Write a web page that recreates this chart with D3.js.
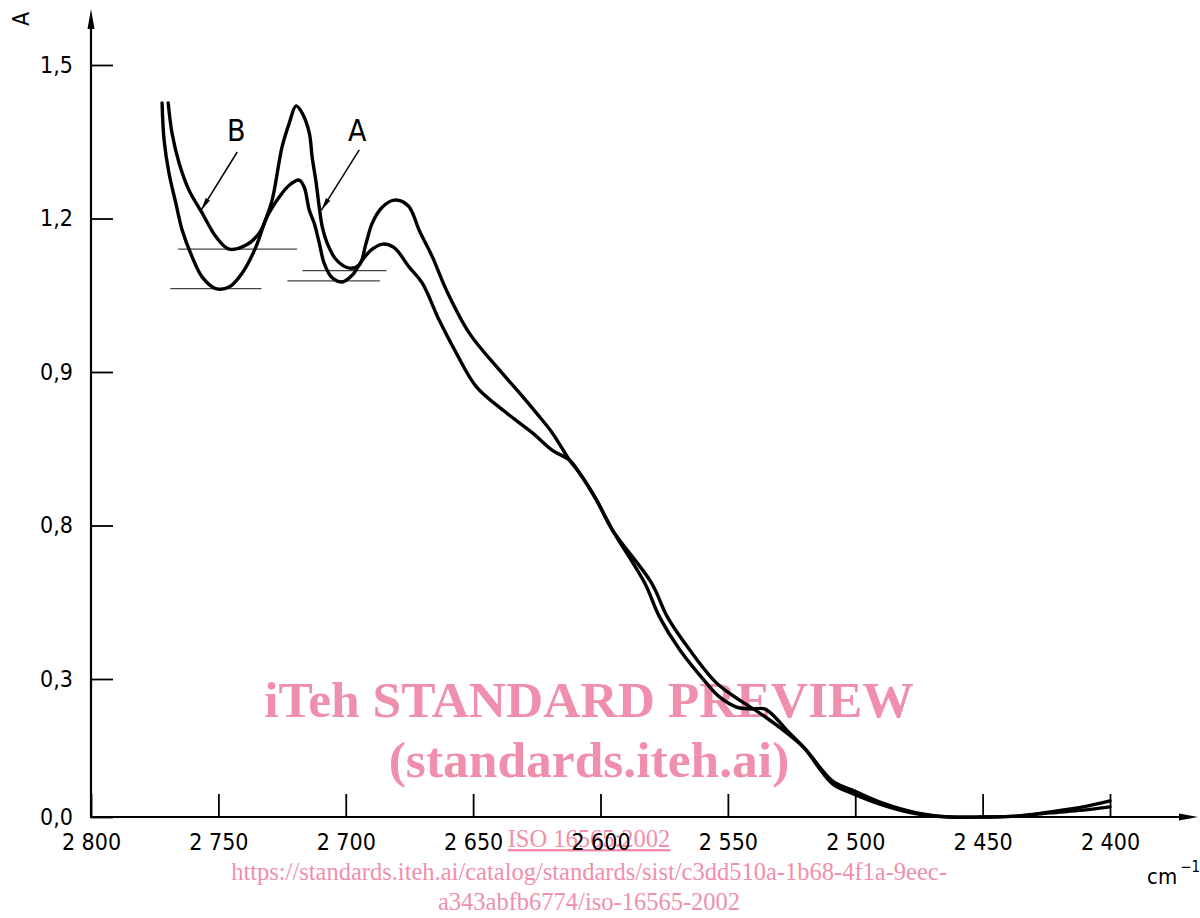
<!DOCTYPE html>
<html>
<head>
<meta charset="utf-8">
<script src="https://cdn.jsdelivr.net/npm/d3@7"></script>
<style>
  html, body { margin: 0; padding: 0; background: #fff; }
  .content { width: 1200px; height: 918px; }
</style>
</head>
<body>
<div class="content"></div>
<script>
// wavenumber (cm-1) and absorbance
var curveA = [
  [2772.1, 1.426], [2771.3, 1.353], [2769.4, 1.289], [2766.7, 1.230], [2764.2, 1.177],
  [2760.3, 1.125], [2756.4, 1.086], [2751.0, 1.063], [2745.8, 1.066], [2740.7, 1.093],
  [2735.3, 1.144], [2732.0, 1.191], [2728.9, 1.236], [2725.0, 1.340], [2722.2, 1.386],
  [2719.5, 1.420], [2717.1, 1.406], [2714.3, 1.367], [2713.2, 1.320], [2711.6, 1.269],
  [2710.4, 1.222], [2709.2, 1.183], [2707.3, 1.152], [2703.7, 1.119], [2698.6, 1.103],
  [2694.7, 1.109], [2692.0, 1.152], [2689.6, 1.191], [2685.7, 1.222], [2681.0, 1.236],
  [2675.5, 1.225], [2671.0, 1.175], [2666.0, 1.125], [2660.5, 1.060], [2651.5, 0.976],
  [2639.7, 0.904], [2631.8, 0.859], [2625.2, 0.820], [2618.9, 0.781], [2612.2, 0.728],
  [2608.3, 0.703], [2601.6, 0.650], [2595.3, 0.591], [2580.0, 0.488], [2573.7, 0.421],
  [2565.0, 0.357], [2554.4, 0.291], [2545.4, 0.254], [2537.5, 0.226], [2526.9, 0.183],
  [2520.0, 0.150], [2508.9, 0.078], [2501.4, 0.059], [2489.2, 0.030], [2475.9, 0.009],
  [2462.9, 0.000], [2449.9, 0.000], [2436.6, 0.002], [2423.6, 0.011], [2410.6, 0.022],
  [2400.0, 0.035]
];
var curveB = [
  [2769.7, 1.426], [2768.2, 1.367], [2765.4, 1.308], [2761.5, 1.255], [2756.4, 1.211],
  [2750.9, 1.164], [2745.8, 1.140], [2739.1, 1.148], [2734.0, 1.171], [2730.1, 1.211],
  [2726.1, 1.242], [2722.2, 1.265], [2718.3, 1.275], [2716.3, 1.261], [2714.3, 1.216],
  [2712.4, 1.191], [2710.4, 1.152], [2708.5, 1.113], [2705.3, 1.084], [2701.4, 1.076],
  [2697.5, 1.089], [2693.5, 1.119], [2689.6, 1.140], [2685.5, 1.150], [2681.0, 1.143],
  [2675.1, 1.105], [2670.0, 1.074], [2663.3, 1.001], [2656.6, 0.937], [2648.7, 0.871],
  [2636.9, 0.820], [2626.7, 0.781], [2618.9, 0.747], [2612.2, 0.728], [2608.3, 0.703],
  [2601.6, 0.650], [2595.3, 0.591], [2582.7, 0.488], [2576.8, 0.421], [2568.9, 0.357],
  [2558.4, 0.291], [2553.3, 0.261], [2546.6, 0.239], [2541.5, 0.235], [2535.6, 0.235],
  [2532.4, 0.222], [2526.9, 0.189], [2520.0, 0.150], [2508.9, 0.072], [2501.4, 0.052],
  [2489.2, 0.026], [2475.9, 0.007], [2462.9, 0.000], [2449.9, 0.000], [2436.6, 0.002],
  [2423.6, 0.009], [2410.6, 0.015], [2400.0, 0.022]
];
// baselines drawn under the minima: [from, to, absorbance]
var baselines = [
  [2768.9, 2733.1, 1.063],
  [2765.8, 2719.1, 1.140],
  [2717.0, 2684.0, 1.098],
  [2722.9, 2686.6, 1.078]
];
var xTicks = [2800, 2750, 2700, 2650, 2600, 2550, 2500, 2450, 2400];
var xTickLabels = ['2 800', '2 750', '2 700', '2 650', '2 600', '2 550', '2 500', '2 450', '2 400'];
var yTicks = [0, 0.3, 0.6, 0.9, 1.2, 1.5];
var yTickLabels = ['0,0', '0,3', '0,8', '0,9', '1,2', '1,5'];
// curve labels with leader arrows: name, label pos, arrow tail, arrow tip
var labels = [
  { name: 'B', at: [2743.0, 1.373], from: [2742.6, 1.330], to: [2756.8, 1.216] },
  { name: 'A', at: [2695.5, 1.373], from: [2694.7, 1.334], to: [2709.6, 1.216] }
];

var font = '"DejaVu Sans Condensed", "DejaVu Sans", sans-serif';

var svg = d3.select('.content')
  .append('svg')
  .attr('width', 1200)
  .attr('height', 918);

var defs = svg.append('defs');
defs.append('marker')
  .attr('id', 'leadArrow')
  .attr('viewBox', '0 0 13 6')
  .attr('refX', 13)
  .attr('refY', 3)
  .attr('markerWidth', 13)
  .attr('markerHeight', 6)
  .attr('markerUnits', 'userSpaceOnUse')
  .attr('orient', 'auto')
  .append('path')
  .attr('d', 'M0,0.5L13,3L0,5.5Z')
  .attr('fill', '#000');

var x = d3.scaleLinear().domain([2800, 2400]).range([91, 1110]);
var y = d3.scaleLinear().domain([0, 0.3, 1.5]).range([817, 679, 65]);

// watermark
var wm = svg.append('g')
  .attr('fill', '#f08fab')
  .attr('font-family', '"Liberation Serif", "Times New Roman", serif')
  .attr('text-anchor', 'middle');
wm.append('text').attr('x', 589).attr('y', 717)
  .attr('font-size', 51.5).attr('font-weight', 'bold')
  .text('iTeh STANDARD PREVIEW');
wm.append('text').attr('x', 589).attr('y', 777)
  .attr('font-size', 51.5).attr('font-weight', 'bold')
  .text('(standards.iteh.ai)');
wm.append('text').attr('x', 589).attr('y', 847)
  .attr('font-size', 24.5).attr('text-decoration', 'underline')
  .text('ISO 16565:2002');
wm.append('text').attr('x', 589).attr('y', 880)
  .attr('font-size', 24.5)
  .text('https://standards.iteh.ai/catalog/standards/sist/c3dd510a-1b68-4f1a-9eec-');
wm.append('text').attr('x', 589).attr('y', 910)
  .attr('font-size', 24.5)
  .text('a343abfb6774/iso-16565-2002');

// axes
var axis_x = svg.append('g')
  .attr('transform', 'translate(0,' + y(0) + ')')
  .call(d3.axisBottom(x)
    .tickValues(xTicks)
    .tickSizeInner(-23)
    .tickSizeOuter(0)
    .tickPadding(17)
    .tickFormat(function (d, i) { return xTickLabels[i]; }));
axis_x.select('.domain').remove();
axis_x.selectAll('line').attr('stroke', '#000').attr('stroke-width', 1.8);
axis_x.selectAll('text').attr('font-family', font).attr('font-size', 23).attr('fill', '#000');

var axis_y = svg.append('g')
  .attr('transform', 'translate(' + x(2800) + ',0)')
  .call(d3.axisLeft(y)
    .tickValues(yTicks)
    .tickSizeInner(-22)
    .tickSizeOuter(0)
    .tickPadding(18)
    .tickFormat(function (d, i) { return yTickLabels[i]; }));
axis_y.select('.domain').remove();
axis_y.selectAll('line').attr('stroke', '#000').attr('stroke-width', 1.8);
axis_y.selectAll('text').attr('font-family', font).attr('font-size', 23).attr('fill', '#000');

// axis lines with arrow heads
var x0 = x(2800), y0 = y(0);
svg.append('line')
  .attr('x1', x0).attr('y1', y0).attr('x2', 1184).attr('y2', y0)
  .attr('stroke', '#000').attr('stroke-width', 2.2);
svg.append('path')
  .attr('d', 'M1198,' + y0 + 'L1179,' + (y0 - 3.5) + 'L1179,' + (y0 + 3.5) + 'Z')
  .attr('fill', '#000');
svg.append('line')
  .attr('x1', x0).attr('y1', y0 + 1).attr('x2', x0).attr('y2', 24)
  .attr('stroke', '#000').attr('stroke-width', 2.2);
svg.append('path')
  .attr('d', 'M' + x0 + ',9L' + (x0 - 3.5) + ',29L' + (x0 + 3.5) + ',29Z')
  .attr('fill', '#000');

// axis titles
svg.append('text')
  .attr('transform', 'translate(29,19) rotate(-90)')
  .attr('text-anchor', 'middle')
  .attr('font-family', font)
  .attr('font-size', 23)
  .text('A');
var unit = svg.append('text')
  .attr('x', 1147).attr('y', 884)
  .attr('font-family', font)
  .attr('font-size', 22);
unit.append('tspan').text('cm');
unit.append('tspan').attr('dy', -12).attr('dx', 3).attr('font-size', 15).text('−1');

// baselines
svg.append('g')
  .selectAll('line')
  .data(baselines)
  .enter()
  .append('line')
  .attr('x1', function (d) { return x(d[0]); })
  .attr('x2', function (d) { return x(d[1]); })
  .attr('y1', function (d) { return y(d[2]); })
  .attr('y2', function (d) { return y(d[2]); })
  .attr('stroke', '#444')
  .attr('stroke-width', 1.3);

// spectra
var line = d3.line()
  .x(function (d) { return x(d[0]); })
  .y(function (d) { return y(d[1]); })
  .curve(d3.curveCatmullRom.alpha(0.5));

svg.append('g')
  .selectAll('path')
  .data([curveA, curveB])
  .enter()
  .append('path')
  .attr('d', line)
  .attr('fill', 'none')
  .attr('stroke', '#000')
  .attr('stroke-width', 3.4)
  .attr('stroke-linejoin', 'round')
  .attr('stroke-linecap', 'round');

// curve labels
var lab = svg.append('g').selectAll('g')
  .data(labels)
  .enter()
  .append('g');
lab.append('line')
  .attr('x1', function (d) { return x(d.from[0]); })
  .attr('y1', function (d) { return y(d.from[1]); })
  .attr('x2', function (d) { return x(d.to[0]); })
  .attr('y2', function (d) { return y(d.to[1]); })
  .attr('stroke', '#000')
  .attr('stroke-width', 1.5)
  .attr('marker-end', 'url(#leadArrow)');
lab.append('text')
  .attr('x', function (d) { return x(d.at[0]); })
  .attr('y', function (d) { return y(d.at[1]); })
  .attr('dy', '0.36em')
  .attr('text-anchor', 'middle')
  .attr('font-family', font)
  .attr('font-size', 30)
  .text(function (d) { return d.name; });
</script>
</body>
</html>
